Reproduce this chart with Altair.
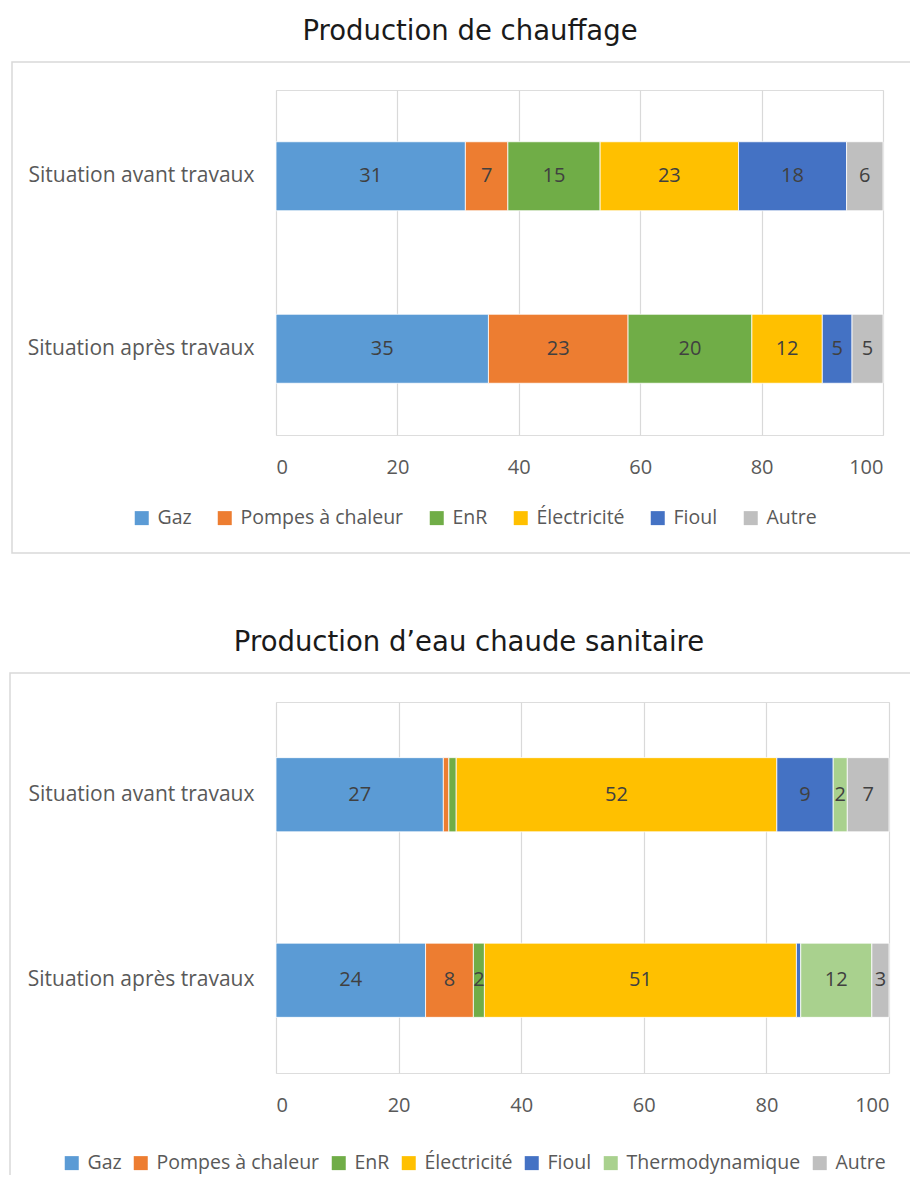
import altair as alt
import pandas as pd

situations = ["Situation avant travaux", "Situation après travaux"]

cats_heat = ["Gaz", "Pompes à chaleur", "EnR", "Électricité", "Fioul", "Autre"]
heat_avant = [31.2, 7.0, 15.2, 22.8, 17.8, 6.0]
heat_apres = [35.0, 23.0, 20.4, 11.6, 4.9, 5.1]

cats_ecs = ["Gaz", "Pompes à chaleur", "EnR", "Électricité", "Fioul", "Thermodynamique", "Autre"]
ecs_avant = [27.3, 0.9, 1.2, 52.3, 9.2, 2.3, 6.8]
ecs_apres = [24.4, 7.8, 1.8, 50.9, 0.7, 11.6, 2.8]

colors = {
    "Gaz": "#5B9BD5",
    "Pompes à chaleur": "#ED7D31",
    "EnR": "#70AD47",
    "Électricité": "#FFC000",
    "Fioul": "#4472C4",
    "Thermodynamique": "#A9D18E",
    "Autre": "#BFBFBF",
}

FONT = "Open Sans"
TXT = "#595959"


def make_df(cats, avant, apres):
    rows = []
    for s, vals in zip(situations, [avant, apres]):
        for i, (c, v) in enumerate(zip(cats, vals)):
            rows.append({"situation": s, "cat": c, "value": v, "order": i})
    return pd.DataFrame(rows)


def panel(cats, avant, apres, title, width, height, pad_inner, legx, legy, colpad, frame):
    df = make_df(cats, avant, apres)
    base = alt.Chart(df).transform_stack(
        stack="value", groupby=["situation"], sort=[alt.SortField("order")], as_=["x0", "x1"]
    )
    yenc = alt.Y(
        "situation:N",
        sort=situations,
        scale=alt.Scale(paddingInner=pad_inner, paddingOuter=pad_inner / 2),
        axis=alt.Axis(title=None, labelFontSize=21, labelColor=TXT, labelFont=FONT,
                      ticks=False, domain=False, labelPadding=22, grid=False, labelLimit=0),
    )
    bars = base.mark_bar(stroke="white", strokeWidth=0.8).encode(
        x=alt.X("x0:Q", scale=alt.Scale(domain=[0, 100]),
                axis=alt.Axis(title=None, values=[0, 20, 40, 60, 80, 100], labelFontSize=20,
                              labelColor=TXT, labelFont=FONT, ticks=False, domain=False,
                              labelPadding=22, grid=True, gridColor="#d9d9d9", gridWidth=1.2)),
        x2="x1:Q",
        y=yenc,
        color=alt.Color("cat:N", scale=alt.Scale(domain=cats, range=[colors[c] for c in cats]),
                        legend=alt.Legend(title=None, orient="none", legendX=legx, legendY=legy,
                                          direction="horizontal", columns=len(cats),
                                          columnPadding=colpad, symbolType="square",
                                          symbolSize=196, symbolStrokeWidth=0, labelFontSize=19.5,
                                          labelColor=TXT, labelFont=FONT, labelOffset=6,
                                          labelLimit=0)),
        order=alt.Order("order:Q"),
    )
    labels = base.transform_filter("datum.value >= 1.5").transform_calculate(
        mid="(datum.x0 + datum.x1) / 2"
    ).mark_text(fontSize=20, color="#404040", font=FONT).encode(
        x="mid:Q",
        y=alt.Y("situation:N", sort=situations),
        text=alt.Text("value:Q", format=".0f"),
    )
    box = alt.Chart(pd.DataFrame({"a": [0]})).mark_rect(
        fillOpacity=0, stroke="#d9d9d9", strokeWidth=1.5
    ).encode(
        x=alt.value(frame[0]), x2=alt.value(frame[1]), y=alt.value(frame[2]), y2=alt.value(frame[3])
    )
    return alt.layer(box, bars, labels).properties(
        width=width, height=height,
        title=alt.TitleParams(title, fontSize=27.5, font="DejaVu Sans", fontWeight="normal",
                              color="#1a1a1a", anchor="middle", frame="bounds", offset=16, dx=1),
    )


top = panel(cats_heat, heat_avant, heat_apres, "Production de chauffage", 607, 345, 0.6,
            -144, 418, 23, (-264, 650, -28, 463))
bottom = panel(cats_ecs, ecs_avant, ecs_apres, "Production d’eau chaude sanitaire", 613, 371, 0.6,
               -214, 451, 9, (-266, 650, -29, 490))

chart = alt.vconcat(top, bottom, spacing=73).resolve_scale(color="independent").properties(
    padding={"left": 0, "top": 9, "right": -18, "bottom": -19}
).configure_view(stroke=None).configure(background="white")

chart.save("out.html", embed_options={"renderer": "svg", "actions": False})
